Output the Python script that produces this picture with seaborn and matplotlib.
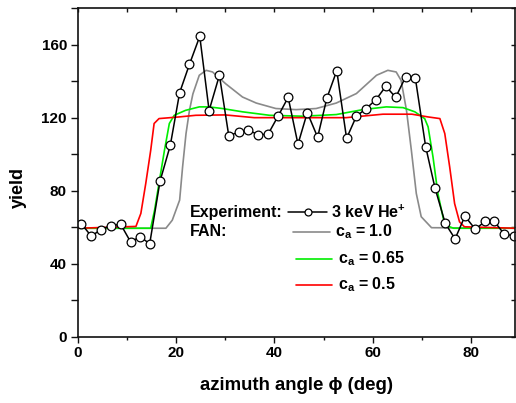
import numpy as np
import pandas as pd
import matplotlib
matplotlib.use("Agg")
import matplotlib.pyplot as plt
from matplotlib.ticker import MultipleLocator
import seaborn as sns

# ---- data ----
exp_x = [0.7, 2.7, 4.7, 6.7, 8.7, 10.7, 12.7, 14.6, 16.7, 18.8, 20.7, 22.7, 24.8,
         26.7, 28.8, 30.7, 32.7, 34.7, 36.7, 38.7, 40.8, 42.8, 44.8, 46.7, 48.8,
         50.7, 52.7, 54.7, 56.7, 58.7, 60.7, 62.7, 64.7, 66.7, 68.7, 70.8, 72.7,
         74.8, 76.8, 78.8, 80.9, 82.9, 84.8, 86.8, 88.8]
exp_y = [61.9, 55.2, 58.8, 61.0, 61.6, 52.1, 54.8, 51.0, 85.2, 104.9, 133.7, 149.2,
         164.5, 123.9, 143.2, 110.2, 112.0, 113.1, 110.7, 110.9, 121.1, 131.1, 105.5,
         122.8, 109.3, 130.8, 145.7, 108.7, 120.8, 125.0, 129.9, 137.2, 131.1, 142.2,
         141.7, 104.2, 81.6, 62.1, 53.7, 66.1, 59.0, 63.2, 63.2, 56.3, 55.4]
exp_run = [0] * 34 + [1] * 11

gray_x = [0, 17.9, 19.2, 20.7, 21.3, 22.0, 22.7, 23.4, 24.7, 26.1, 27.4, 30.1, 33.5,
          36.3, 40.3, 44.4, 48.5, 52.6, 56.7, 60.8, 63.1, 64.8, 65.8, 66.9, 67.9,
          68.9, 69.9, 72.0, 89]
gray_y = [59.5, 59.5, 63.9, 74.9, 93.0, 111.3, 124.0, 133.0, 143.2, 145.9, 145.0,
          138.5, 131.3, 128.0, 125.0, 124.4, 125.0, 128.0, 133.2, 143.2, 145.9, 145.0,
          140.4, 124.0, 102.0, 78.5, 65.8, 59.8, 59.5]

green_x = [0, 14.8, 15.6, 16.6, 17.6, 18.6, 19.6, 21.9, 24.7, 26.7, 29.4, 33.5, 39.0,
           45.8, 52.6, 58.0, 62.8, 66.2, 68.6, 70.6, 71.3, 72.3, 73.3, 74.4, 75.4,
           76.5, 89]
green_y = [59.5, 59.5, 69.4, 85.8, 102.0, 116.8, 121.3, 124.0, 125.9, 125.9, 125.0,
           123.2, 121.3, 120.8, 121.7, 124.4, 125.9, 125.5, 123.2, 119.5, 115.0, 98.5,
           78.5, 64.8, 60.6, 59.5, 59.5]

red_x = [0, 11.8, 12.8, 13.8, 14.8, 15.5, 16.5, 20.6, 24.0, 30.0, 35.9, 45.0, 54.6,
         62.1, 68.0, 71.3, 73.7, 74.7, 75.7, 76.7, 77.7, 78.7, 89]
red_y = [59.5, 60.5, 67.6, 84.0, 102.0, 116.8, 119.5, 120.4, 121.3, 121.5, 120.0,
         120.0, 120.0, 121.9, 121.9, 120.4, 119.5, 111.3, 93.0, 73.0, 63.0, 60.3, 59.5]

x_ticks = [0, 20, 40, 60, 80]
y_ticks = [0, 40, 80, 120, 160]
x_label = "azimuth angle \u03d5 (deg)"
y_label = "yield"
legend_head = ["Experiment:", "FAN:"]
exp_label = "3 keV He$^{\\mathbf{+}}$"
fan_labels = ["c$_{\\mathbf{a}}$ = 1.0", "c$_{\\mathbf{a}}$ = 0.65", "c$_{\\mathbf{a}}$ = 0.5"]
fan_colors = ["#8a8a8a", "#00ee00", "#ff0000"]

# ---- style ----
sns.set_style("ticks")
plt.rcParams["font.family"] = ["Liberation Sans", "DejaVu Sans"]
plt.rcParams["font.weight"] = "bold"
plt.rcParams["text.color"] = "black"
plt.rcParams["axes.labelcolor"] = "black"
plt.rcParams["xtick.color"] = "black"
plt.rcParams["ytick.color"] = "black"
plt.rcParams["mathtext.fontset"] = "custom"
plt.rcParams["mathtext.rm"] = "Liberation Sans:bold"
plt.rcParams["mathtext.it"] = "Liberation Sans:bold"
plt.rcParams["mathtext.bf"] = "Liberation Sans:bold"
plt.rcParams["mathtext.default"] = "bf"

fig = plt.figure(figsize=(5.16, 4.03), dpi=100)
ax = fig.add_axes([78 / 516, 1 - 337 / 403, (515 - 78) / 516, (337 - 8) / 403])

lw = 1.2
for xs, ys, c in [(gray_x, gray_y, fan_colors[0]), (green_x, green_y, fan_colors[1]),
                  (red_x, red_y, fan_colors[2])]:
    sns.lineplot(x=xs, y=ys, ax=ax, color=c, lw=lw, sort=False, estimator=None)

df = pd.DataFrame({"x": exp_x, "y": exp_y, "run": exp_run})
sns.lineplot(data=df, x="x", y="y", units="run", estimator=None, sort=False, ax=ax,
             color="black", lw=1.1, marker="o", markersize=6.3,
             markerfacecolor="white", markeredgecolor="black", markeredgewidth=0.9)

ax.set_xlim(0, 89)
ax.set_ylim(0, 180)
ax.xaxis.set_major_locator(MultipleLocator(20))
ax.xaxis.set_minor_locator(MultipleLocator(10))
ax.yaxis.set_major_locator(MultipleLocator(40))
ax.yaxis.set_minor_locator(MultipleLocator(20))
ax.set_xticks(x_ticks)
ax.set_yticks(y_ticks)
ax.set_xticklabels([str(v) for v in x_ticks])
ax.set_yticklabels([str(v) for v in y_ticks])

for s in ax.spines.values():
    s.set_visible(True)
    s.set_linewidth(1.2)
    s.set_color("#111111")

ax.tick_params(which="both", top=True, right=True, labelsize=11, width=1.0,
               color="#111111", pad=2)
ax.tick_params(axis="x", which="major", direction="out", length=4.5, top=False)
ax.tick_params(axis="x", which="minor", direction="out", length=2.5, top=False)
ax.tick_params(axis="y", which="both", direction="out", length=5, right=False, pad=3)
# inward ticks on top and right
axt = ax.secondary_xaxis("top")
axt.set_xticks(list(range(0, 90, 10)))
axt.set_xticklabels([])
axt.tick_params(direction="in", length=3, width=1.0, color="#111111")
axr = ax.secondary_yaxis("right")
axr.set_yticks(list(range(0, 181, 20)))
axr.set_yticklabels([])
axr.tick_params(direction="in", length=3, width=1.0, color="#111111")
for a in (axt, axr):
    for s in a.spines.values():
        s.set_visible(False)

ax.set_xlabel(x_label, fontsize=13.4, fontweight="bold", labelpad=12)
ax.set_ylabel(y_label, fontsize=13, fontweight="bold")
ax.yaxis.set_label_coords((27 - 78) / 437, (337 - 188) / 329)

# ---- legend (drawn by hand) ----
def fx(px):
    return (px - 78) / (515 - 78)

def fy(py):
    return (337 - py) / (337 - 8)

tkw = dict(transform=ax.transAxes, fontsize=11.5, fontweight="bold", va="center")
ax.text(fx(190), fy(212), legend_head[0], ha="left", **tkw)
ax.text(fx(190), fy(232), legend_head[1], ha="left", **tkw)
ax.plot([fx(288), fx(327)], [fy(212), fy(212)], color="black", lw=1.1,
        transform=ax.transAxes)
ax.plot([fx(307.5)], [fy(212)], marker="o", markersize=5, markerfacecolor="white",
        markeredgecolor="black", markeredgewidth=0.9, transform=ax.transAxes)
ax.text(fx(331), fy(212), exp_label, ha="left", **tkw)
rows = [(232, 293, 330, 335), (259, 296, 332, 338), (285, 296, 332, 338)]
for (py, x0, x1, tx), lab, c in zip(rows, fan_labels, fan_colors):
    ax.plot([fx(x0), fx(x1)], [fy(py), fy(py)], color=c, lw=lw, transform=ax.transAxes)
    ax.text(fx(tx), fy(py), lab, ha="left", **tkw)

fig.savefig("out.png", dpi=100)
